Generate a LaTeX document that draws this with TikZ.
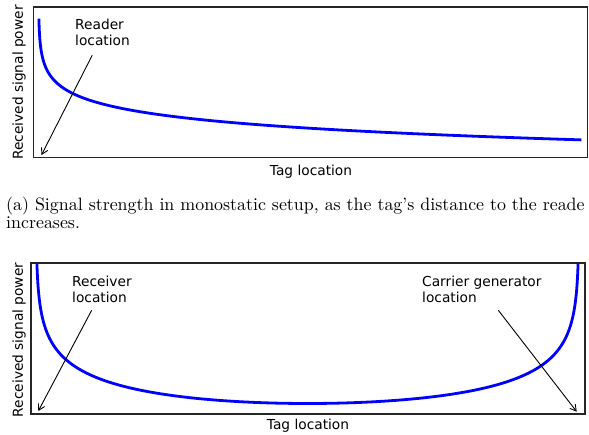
\documentclass[tikz,border=0pt]{standalone}
\usepackage{fontspec}
\usepackage{tikz}
\usetikzlibrary{arrows.meta,positioning}
\newfontfamily\plotfont{DejaVu Sans}
\newfontfamily\capfont{lmroman10-regular.otf}

\tikzset{
  frame/.style={line width=1.2pt, draw=black!85},
  power/.style={line width=2.8pt, color=blue},
  lbl/.style={font=\plotfont\fontsize{13.75}{16}\selectfont, inner sep=0pt, align=left},
  pointer/.style={line width=0.9pt, -{Straight Barb[length=6pt,width=7pt]}},
  captxt/.style={font=\capfont\fontsize{17.9}{18}\selectfont, inner sep=0pt, anchor=base west},
}

\begin{document}
\begin{tikzpicture}[x=1pt, y=-1pt]
  \useasboundingbox (0,0) rectangle (589,435);
  % monostatic setup: reader and tag
  \draw[frame] (33.5,7) rectangle (587.5,157.5);
  \draw[power] plot[domain=-0.916:6.299, samples=160] ({38.5+exp(\x)}, {34.1+16.8*\x});
  \node[lbl, rotate=90] (ylaba) at (19,82.5) {Received signal power};
  \node[lbl] (xlaba) at (311,172) {Tag location};
  \node[lbl, anchor=west] (rdr) at (75,32.8) {Reader\\location};
  \coordinate (rdrtail) at ([xshift=-10.3pt,yshift=-9pt]rdr.south);
  \coordinate (rdrpos) at (41.5,155);
  \draw[pointer] (rdrtail) -- (rdrpos);
  % caption of (a)
  \node[captxt] (capa) at (6,211) {(a) Signal strength in monostatic setup, as the tag’s distance to the reade};
  \node[captxt] (capb) at ([yshift=-18pt]capa.base west) {increases.};
  % bistatic setup: receiver and carrier generator
  \draw[frame] (31,263) rectangle (585,414);
  \draw[power] plot[domain=-3.2:3.2, samples=200] ({307.5+271.5*tanh(\x)}, {403.5-56*ln(cosh(\x))});
  \node[lbl, rotate=90] (ylabb) at (19,340) {Received signal power};
  \node[lbl] (xlabb) at (308,426) {Tag location};
  \node[lbl, anchor=west] (rcv) at (72,289.8) {Receiver\\location};
  \coordinate (rcvtail) at ([xshift=-10.3pt,yshift=-7pt]rcv.south);
  \coordinate (rcvpos) at (38.3,411);
  \draw[pointer] (rcvtail) -- (rcvpos);
  \node[lbl, anchor=west] (car) at (422,289.8) {Carrier generator\\location};
  \coordinate (cartail) at ([xshift=16.5pt,yshift=-7pt]car.south);
  \coordinate (carpos) at (576.7,411.7);
  \draw[pointer] (cartail) -- (carpos);
\end{tikzpicture}
\end{document}
